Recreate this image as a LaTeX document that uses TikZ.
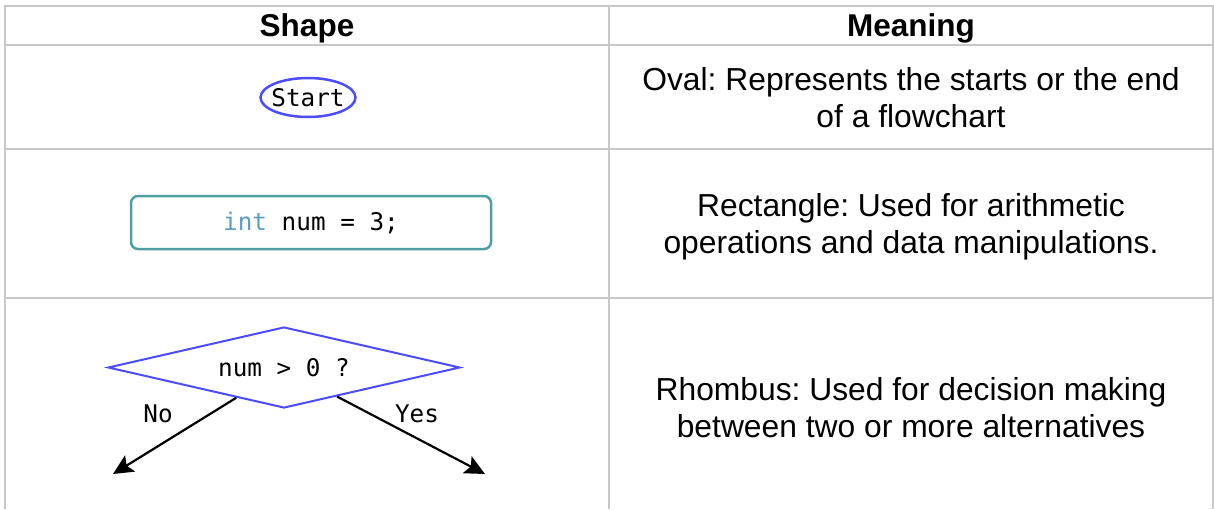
\documentclass[tikz,border=0pt]{standalone}
\usepackage{fontspec}
\setmainfont{Liberation Sans}
\newfontfamily\codefont{DejaVu Sans Mono}
\usetikzlibrary{shapes.geometric,arrows.meta,calc}
\definecolor{gridgray}{HTML}{C8C8C8}
\definecolor{shapeblue}{HTML}{4B4BFF}
\definecolor{boxteal}{HTML}{4E9EA3}
\definecolor{kwblue}{HTML}{5B9FC0}
\frenchspacing

\begin{document}
\begin{tikzpicture}[x=1pt,y=-1pt,
  grid/.style={draw=gridgray,line width=2pt},
  head/.style={font=\fontsize{31.5}{37}\selectfont\bfseries,anchor=base},
  desc/.style={font=\fontsize{31.8}{37}\selectfont,align=center},
  code/.style={font=\codefont\fontsize{24.3}{28}\selectfont},
  oval/.style={ellipse,draw=shapeblue,line width=2.5pt,minimum width=95pt,
    minimum height=39pt,inner sep=0pt,code},
  procbox/.style={rectangle,rounded corners=7pt,draw=boxteal,line width=2.5pt,
    minimum width=360pt,minimum height=53pt,inner sep=0pt,code},
  decision/.style={diamond,aspect=4.35,draw=shapeblue,line width=2pt,
    minimum width=352pt,minimum height=81pt,inner sep=0pt,code},
  flow/.style={line width=2.2pt,-{Stealth[length=20pt,width=19pt,inset=4pt]}}]
\useasboundingbox (0,0) rectangle (1214,509);

% table grid
\draw[grid] (5,509) -- (5,6) -- (1213,6) -- (1213,509);
\draw[grid] (609,6) -- (609,509);
\draw[grid] (5,44.5) -- (1213,44.5);
\draw[grid] (5,149) -- (1213,149);
\draw[grid] (5,298) -- (1213,298);

% header
\node[head] (hshape) at (307,36) {Shape};
\node[head] (hmean) at (911,36) {Meaning};

% descriptions
\node[desc] (d1) at (911,98) {Oval: Represents the starts or the end\\of a flowchart};
\node[desc] (d2) at (911,227) {Rectangle: Used for arithmetic\\operations and data manipulations.};
\node[desc] (d3) at (911,408) {Rhombus: Used for decision making\\between two or more alternatives};

% shapes
\node[oval] (start) at (308,97.5) {\makebox[0pt]{Start}};
\node[procbox] (assign) at (311,222.5) {\textcolor{kwblue}{int} num = 3;};
\node[decision] (test) at (284,367.5) {num > 0 ?};

\coordinate (noend) at (113,474);
\coordinate (yesend) at (485,474);
\draw[flow] ($(test.south)!0.27!(test.west)$) -- (noend);
\draw[flow] ($(test.south)!0.30!(test.east)$) -- (yesend);
\node[code] (nolab) at (158,414) {No};
\node[code] (yeslab) at (417,414) {Yes};
\end{tikzpicture}
\end{document}
